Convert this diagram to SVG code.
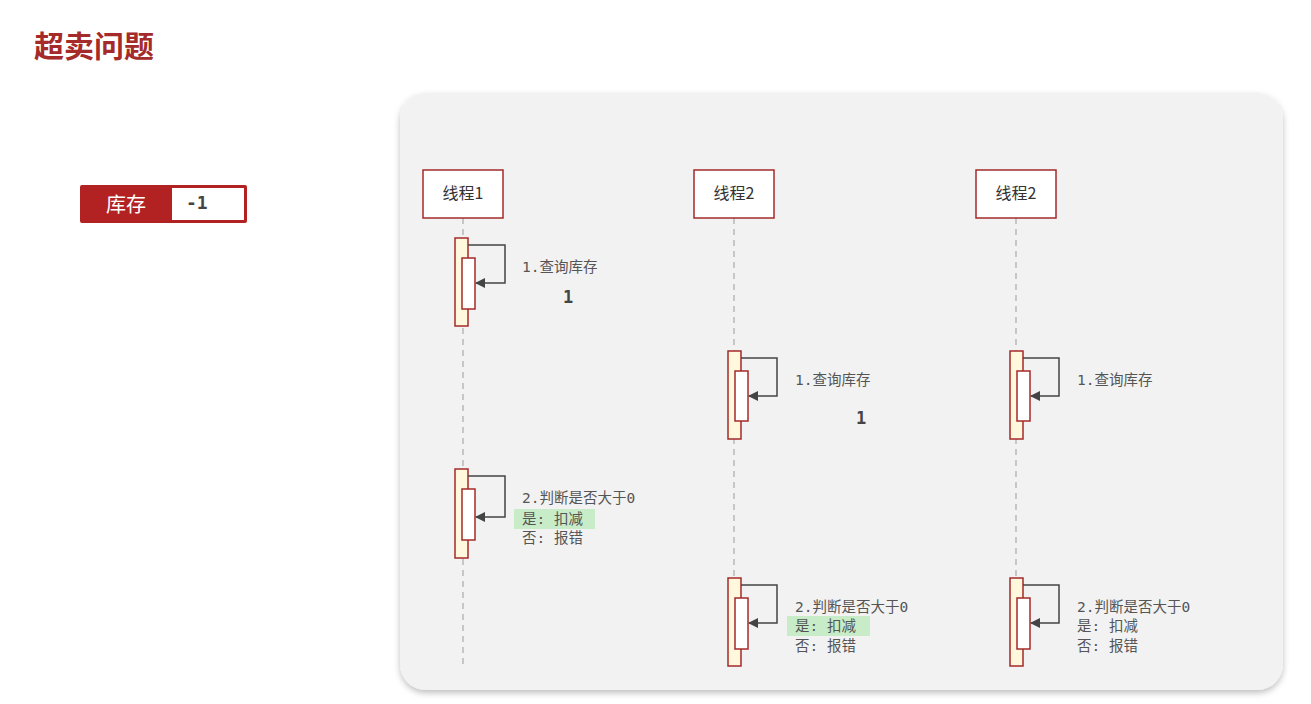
<svg xmlns="http://www.w3.org/2000/svg" width="1311" height="704" viewBox="0 0 1311 704">
<defs>
<filter id="sh" x="-5%" y="-5%" width="110%" height="110%"><feDropShadow dx="0" dy="3" stdDeviation="3" flood-color="#000" flood-opacity="0.25"/></filter>
<marker id="ah" viewBox="0 0 10 10" refX="9" refY="5" markerWidth="10" markerHeight="10" markerUnits="userSpaceOnUse" orient="auto"><path d="M0,0 L10,5 L0,10 z" fill="#444"/></marker>
</defs>
<style>
.hd{fill:#fff;stroke:#a52a2a;stroke-width:1.5}
.hdt{font-family:"Noto Sans CJK SC",sans-serif;font-size:16px;fill:#333;text-anchor:middle}
.ll{stroke:#aaa;stroke-width:1.2;stroke-dasharray:6 5}
.ao{fill:#fff8dc;stroke:#a52a2a;stroke-width:1.5}
.ai{fill:#fff;stroke:#a52a2a;stroke-width:1.5}
.msg{fill:none;stroke:#444;stroke-width:1.5}
.lb{font-family:"DejaVu Sans Mono","Noto Sans CJK SC",monospace;font-size:14.5px;fill:#555}
.num{font-family:"DejaVu Sans Mono",monospace;font-size:17px;font-weight:bold;fill:#444}
.hl{fill:#c8ecc8}
</style>
<rect width="1311" height="704" fill="#fff"/>
<text x="34" y="57" font-family="Noto Sans CJK SC,sans-serif" font-size="30" font-weight="bold" fill="#a52a2a">超卖问题</text>
<g id="stock">
<rect x="80" y="185" width="167" height="38" rx="2" fill="#b22222"/>
<rect x="172" y="188" width="72" height="32" fill="#fff"/>
<text x="126" y="212" font-family="Noto Sans CJK SC,sans-serif" font-size="20" fill="#fff" text-anchor="middle">库存</text>
<text x="186" y="209" font-family="DejaVu Sans Mono,monospace" font-size="18" font-weight="bold" fill="#444">-1</text>
</g>
<rect x="400" y="93" width="883" height="597" rx="26" fill="#f2f2f2" filter="url(#sh)"/>
<g id="lifelines">
<line class="ll" x1="463" y1="218" x2="463" y2="668"/>
<line class="ll" x1="734" y1="218" x2="734" y2="668"/>
<line class="ll" x1="1016" y1="218" x2="1016" y2="668"/>
</g>
<g id="t1"><rect class="hd" x="423" y="170" width="80" height="48"/><text class="hdt" x="463" y="199">线程1</text></g>
<g id="t2"><rect class="hd" x="694" y="170" width="80" height="48"/><text class="hdt" x="734" y="199">线程2</text></g>
<g id="t3"><rect class="hd" x="976" y="170" width="80" height="48"/><text class="hdt" x="1016" y="199">线程2</text></g>
<g id="acts">
<rect class="ao" x="455" y="238" width="13" height="88"/><rect class="ai" x="462" y="258" width="13" height="51"/>
<rect class="ao" x="455" y="469" width="13" height="89"/><rect class="ai" x="462" y="489" width="13" height="51"/>
<rect class="ao" x="728" y="351" width="13" height="88"/><rect class="ai" x="735" y="371" width="13" height="50"/>
<rect class="ao" x="728" y="578" width="13" height="88"/><rect class="ai" x="735" y="598" width="13" height="51"/>
<rect class="ao" x="1010" y="351" width="13" height="88"/><rect class="ai" x="1017" y="371" width="13" height="50"/>
<rect class="ao" x="1010" y="578" width="13" height="88"/><rect class="ai" x="1017" y="598" width="13" height="51"/>
</g>
<g id="connectors">
<path class="msg" marker-end="url(#ah)" d="M468,245 H505 V283 H476"/>
<path class="msg" marker-end="url(#ah)" d="M468,476 H505 V517 H476"/>
<path class="msg" marker-end="url(#ah)" d="M741,358 H777 V396 H749"/>
<path class="msg" marker-end="url(#ah)" d="M741,585 H777 V623 H749"/>
<path class="msg" marker-end="url(#ah)" d="M1023,358 H1059 V396 H1031"/>
<path class="msg" marker-end="url(#ah)" d="M1023,585 H1059 V623 H1031"/>
</g>
<g id="labels">
<text class="lb" x="522" y="272">1.查询库存</text>
<text class="num" x="563" y="303">1</text>
<text class="lb" x="795" y="385">1.查询库存</text>
<text class="num" x="856" y="424">1</text>
<text class="lb" x="1077" y="385">1.查询库存</text>
<rect class="hl" x="514" y="509" width="81" height="20"/>
<text class="lb" x="522" y="503">2.判断是否大于0</text>
<text class="lb" x="522" y="524">是: 扣减</text>
<text class="lb" x="522" y="543">否: 报错</text>
<rect class="hl" x="787" y="616" width="83" height="20"/>
<text class="lb" x="795" y="612">2.判断是否大于0</text>
<text class="lb" x="795" y="631">是: 扣减</text>
<text class="lb" x="795" y="651">否: 报错</text>
<text class="lb" x="1077" y="612">2.判断是否大于0</text>
<text class="lb" x="1077" y="631">是: 扣减</text>
<text class="lb" x="1077" y="651">否: 报错</text>
</g>
</svg>
